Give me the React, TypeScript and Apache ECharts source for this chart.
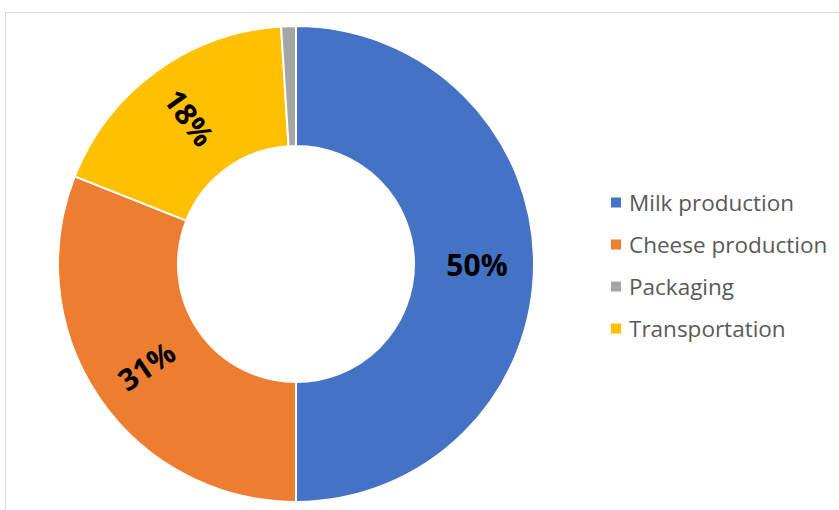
import React, { useEffect, useRef } from "react";
import * as echarts from "echarts";

const categories = ["Milk production", "Cheese production", "Transportation", "Packaging"];
const values = [50, 31, 18, 1];
const colors = ["#4472C4", "#ED7D31", "#FFC000", "#A5A5A5"];
const legendOrder = ["Milk production", "Cheese production", "Packaging", "Transportation"];
const showLabel = [true, true, true, false];

export default function App() {
  const ref = useRef<HTMLDivElement>(null);
  useEffect(() => {
    if (!ref.current) return;
    const chart = echarts.init(ref.current, null, { renderer: "svg" });
    chart.setOption({
      animation: false,
      graphic: [
        {
          type: "rect",
          shape: { x: 5.5, y: 12.5, width: 900, height: 600 },
          style: { fill: "none", stroke: "#D9D9D9", lineWidth: 1 },
          silent: true,
        },
      ],
      legend: {
        orient: "vertical",
        left: 604,
        top: 186,
        icon: "rect",
        itemWidth: 12,
        itemHeight: 12,
        itemGap: 19,
        data: legendOrder,
        textStyle: {
          fontFamily: "Open Sans",
          fontSize: 22.5,
          color: "#595959",
          lineHeight: 22,
          padding: [0, 0, 0, 2],
        },
      },
      series: [
        {
          type: "pie",
          center: [296, 264],
          radius: [118, 238],
          startAngle: 90,
          clockwise: true,
          avoidLabelOverlap: false,
          itemStyle: { borderColor: "#FFFFFF", borderWidth: 2 },
          label: {
            show: true,
            position: "inside",
            rotate: "radial",
            formatter: (p: any) => Math.round(p.percent) + "%",
            fontFamily: "Open Sans",
            fontWeight: "bold",
            fontSize: 30,
            color: "#000000",
          },
          labelLine: { show: false },
          emphasis: { disabled: true },
          data: categories.map((name, i) => ({
            name,
            value: values[i],
            itemStyle: { color: colors[i] },
            label: { show: showLabel[i] },
          })),
        },
      ],
    });
    return () => chart.dispose();
  }, []);
  return (
    <div
      ref={ref}
      style={{ position: "absolute", left: 0, top: 0, width: 839, height: 510, background: "#FFFFFF" }}
    />
  );
}
